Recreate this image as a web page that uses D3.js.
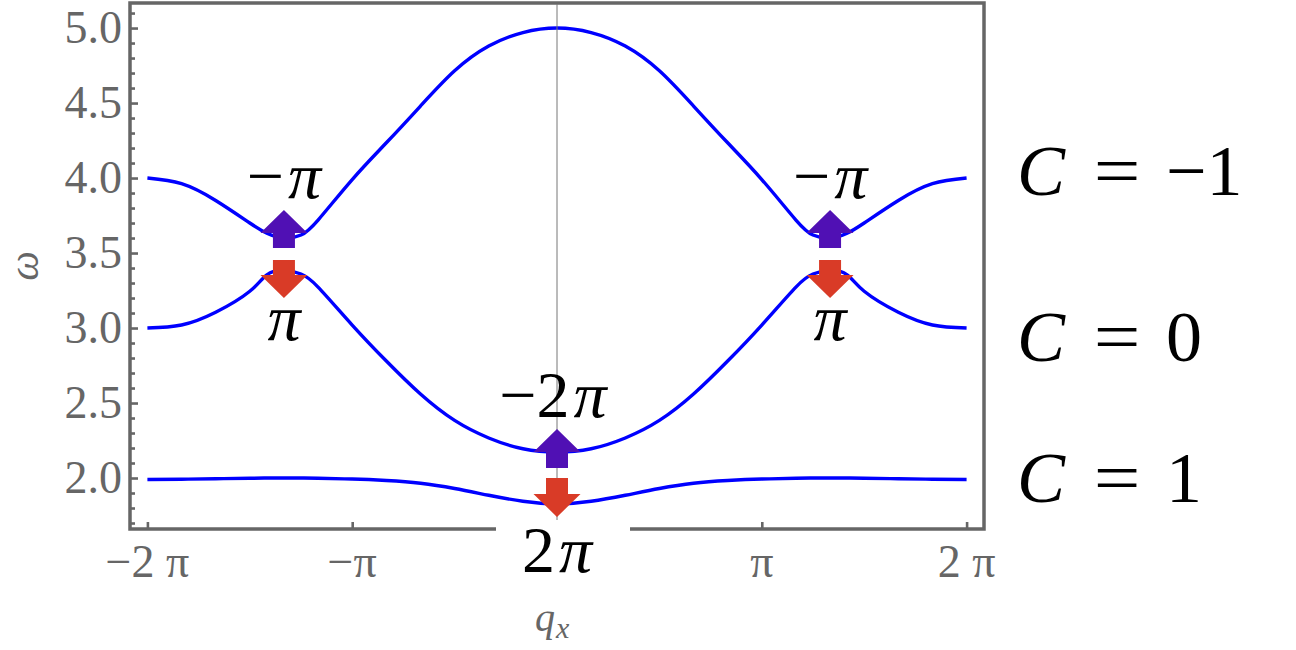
<!DOCTYPE html>
<html><head><meta charset="utf-8">
<script src="https://cdn.jsdelivr.net/npm/d3@7"></script>
<style>body{margin:0;background:#fff;}svg{display:block;} text{font-family:"Liberation Serif","Times New Roman",serif;}</style>
</head><body>
<svg id="chart" width="1296" height="650"></svg>
<script>
const PI = Math.PI;

// momentum samples, in units of π
const qSamples = [-2, -11/6, -10/6, -9/6, -8.5/6, -8/6, -7.5/6, -7/6, -1, -5/6, -4/6, -3/6, -2/6, -1/6, 0,
                  1/6, 2/6, 3/6, 4/6, 5/6, 1, 7/6, 7.5/6, 8/6, 8.5/6, 9/6, 10/6, 11/6, 2];
// three bands ω(q_x)
const bandUpper  = [4.00, 3.962, 3.85, 3.70, 3.632, 3.60, 3.62, 3.72, 3.99, 4.235, 4.48, 4.715, 4.88, 4.97, 5.00,
                    4.97, 4.88, 4.715, 4.48, 4.235, 3.99, 3.72, 3.62, 3.60, 3.632, 3.70, 3.85, 3.962, 4.00];
const bandMiddle = [3.00, 3.02, 3.105, 3.245, 3.355, 3.385, 3.36, 3.273, 3.02, 2.78, 2.56, 2.384, 2.267, 2.195, 2.173,
                    2.195, 2.267, 2.384, 2.56, 2.78, 3.02, 3.273, 3.36, 3.385, 3.355, 3.245, 3.105, 3.02, 3.00];
const bandLower  = [1.99, 1.992, 1.995, 1.998, 2.00, 2.00, 2.00, 1.998, 1.993, 1.983, 1.965, 1.93, 1.885, 1.845, 1.828,
                    1.845, 1.885, 1.93, 1.965, 1.983, 1.993, 1.998, 2.00, 2.00, 2.00, 1.998, 1.995, 1.992, 1.99];

// Berry-phase arrows: position (π units), tail ω, tip ω
const arrowQ    = [-4/3, -4/3, 0, 0, 4/3, 4/3];
const arrowFrom = [3.533, 3.453, 2.067, 2.00, 3.533, 3.453];
const arrowTo   = [3.787, 3.20, 2.327, 1.74, 3.787, 3.20];
const arrowLabels = [["−","π"], ["","π"], ["−2","π"], ["2","π"], ["−","π"], ["","π"]];

// Chern numbers of the bands
const chernLabels = ["−1", "0", "1"];

// axis ticks
const xTickValues = [-2, -1, 1, 2];
const xTickLabels = ["−2 π", "−π", "π", "2 π"];
const yMajorTicks = [2.0, 2.5, 3.0, 3.5, 4.0, 4.5, 5.0];
const yMinorTicks = [1.7, 1.8, 1.9, 2.1, 2.2, 2.3, 2.4, 2.6, 2.7, 2.8, 2.9, 3.1, 3.2, 3.3, 3.4,
                     3.6, 3.7, 3.8, 3.9, 4.1, 4.2, 4.3, 4.4, 4.6, 4.7, 4.8, 4.9, 5.1];

const svg = d3.select("#chart");
const L = 130, R = 984, T = 3, B = 529;
const x = d3.scaleLinear().domain([-2.085 * PI, 2.085 * PI]).range([L, R]);
const y = d3.scaleLinear().domain([1.66, 5.167]).range([B, T]);

const GRAY = "#666666";

// y axis ticks (inside)
const yMinorAxis = d3.axisRight(y).tickValues(yMinorTicks).tickSize(5).tickFormat("");
const yMajorAxis = d3.axisRight(y).tickValues(yMajorTicks).tickSize(8).tickFormat("");
[yMinorAxis, yMajorAxis].forEach(ax => {
  const g = svg.append("g").attr("transform", `translate(${L},0)`).call(ax);
  g.select(".domain").remove();
  g.selectAll("line").attr("stroke", GRAY).attr("stroke-width", 2.6);
});
svg.append("g").selectAll("text").data(yMajorTicks).join("text")
  .attr("x", 122).attr("y", d => y(d) + 15)
  .attr("text-anchor", "end").attr("font-size", 46)
  .attr("fill", GRAY).text(d => d.toFixed(1));

// x axis ticks (inside)
const xAxis = d3.axisTop(x).tickValues(xTickValues.map(v => v * PI)).tickSize(7).tickFormat("");
const gx = svg.append("g").attr("transform", `translate(0,${B})`).call(xAxis);
gx.select(".domain").remove();
gx.selectAll("line").attr("stroke", GRAY).attr("stroke-width", 2.6);
svg.append("g").selectAll("text").data(xTickValues).join("text")
  .attr("x", d => x(d * PI)).attr("y", 577)
  .attr("text-anchor", "middle").attr("font-size", 46)
  .attr("fill", GRAY).text((d, i) => xTickLabels[i]);

// frame
svg.append("rect").attr("x", L).attr("y", T).attr("width", R - L).attr("height", B - T)
  .attr("fill", "none").attr("stroke", GRAY).attr("stroke-width", 3.5);

// bands
const line = d3.line().x(d => x(d[0] * PI)).y(d => y(d[1])).curve(d3.curveNatural);
[bandUpper, bandMiddle, bandLower].forEach(band => {
  svg.append("path").datum(qSamples.map((q, i) => [q, band[i]]))
    .attr("d", line).attr("fill", "none").attr("stroke", "#0000ff").attr("stroke-width", 3.4)
    .attr("stroke-linejoin", "round");
});

// white box behind the centre label on the axis
svg.append("rect").attr("x", 496).attr("y", 520).attr("width", 134).attr("height", 66).attr("fill", "#fff");

// thin vertical line at q = 0
svg.append("line").attr("x1", x(0)).attr("x2", x(0)).attr("y1", T + 1).attr("y2", 520)
  .attr("stroke", "#777").attr("stroke-width", 1);

// arrows
const HEAD = 23, HW = 23.5, SW = 11;
arrowQ.forEach((q, i) => {
  const cx = x(q * PI), y0 = y(arrowFrom[i]), y1 = y(arrowTo[i]);
  const d = Math.sign(y1 - y0), hb = y1 - d * HEAD;
  const pts = [[cx - SW, y0], [cx - SW, hb], [cx - HW, hb], [cx, y1], [cx + HW, hb], [cx + SW, hb], [cx + SW, y0]];
  svg.append("polygon").attr("points", pts.map(p => p.join(",")).join(" "))
    .attr("fill", d < 0 ? "#5010b4" : "#d93b27");
});

// arrow labels (Berry phases)
const mathFont = 66;
arrowQ.forEach((q, i) => {
  const up = arrowTo[i] > arrowFrom[i];
  const tip = y(arrowTo[i]);
  let base = up ? tip - 12 : tip + 42;
  if (!up && q === 0) base = 572;
  const t = svg.append("text").attr("x", x(q * PI) + (q === 0 && up ? -4 : 0)).attr("y", base)
    .attr("text-anchor", "middle").attr("font-size", mathFont).attr("fill", "#000");
  const [pre, sym] = arrowLabels[i];
  if (pre) t.append("tspan").text(pre);
  t.append("tspan").attr("font-style", "italic").attr("dx", pre ? 4 : 0).text(sym);
});

// Chern labels
const chernBase = [195, 361, 502];
chernLabels.forEach((c, i) => {
  const g = svg.append("g").attr("font-size", 72).attr("fill", "#000");
  g.append("text").attr("x", 1017).attr("y", chernBase[i]).attr("font-style", "italic").text("C");
  g.append("text").attr("transform", `translate(1117,${chernBase[i]}) scale(1.15,1)`)
    .attr("text-anchor", "middle").text("=");
  g.append("text").attr("x", 1166).attr("y", chernBase[i]).text(c);
});

// axis titles
svg.append("text").attr("transform", `translate(38,${(T + B) / 2}) rotate(-90)`)
  .attr("text-anchor", "middle").attr("font-style", "italic")
  .attr("font-size", 42).attr("fill", GRAY).text("ω");
const qt = svg.append("text").attr("x", 535).attr("y", 631)
  .attr("font-style", "italic").attr("font-size", 40).attr("fill", GRAY);
qt.append("tspan").text("q");
qt.append("tspan").attr("font-size", 30).attr("dy", 7).attr("dx", 1).text("x");
</script>
</body></html>
